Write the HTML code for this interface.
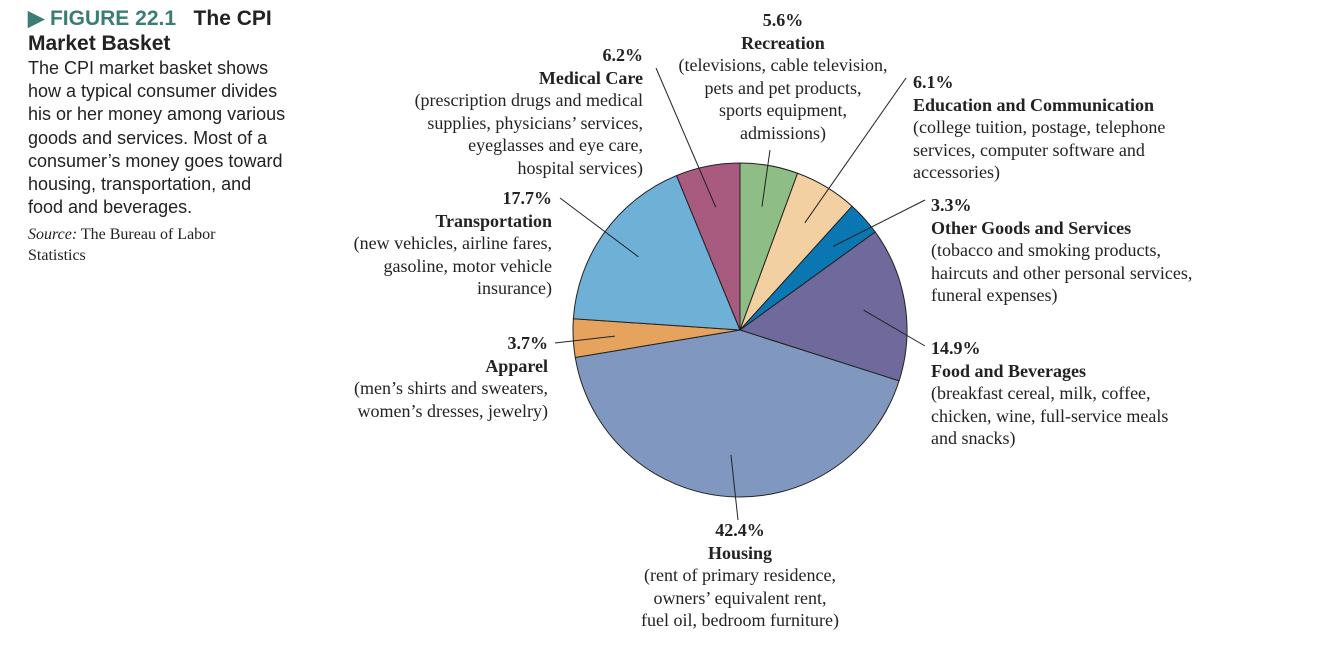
<!DOCTYPE html>
<html><head><meta charset="utf-8"><style>
body{margin:0;width:1340px;height:646px;background:#fff;position:relative;overflow:hidden;font-family:"Liberation Serif",serif;color:#222}
.t{position:absolute;font-size:18px;line-height:22.5px;white-space:nowrap}
.r{text-align:right}.c{text-align:center}
b{font-weight:bold}
#side{position:absolute;left:28px;top:6px;font-family:"Liberation Sans",sans-serif;white-space:nowrap}
</style></head><body>
<div id="side">
<div style="font-size:21px;font-weight:bold;line-height:25px"><span style="color:#3a7d74">&#9654; FIGURE 22.1</span>&nbsp;&nbsp;&nbsp;The CPI<br>Market Basket</div>
<div style="font-size:18px;line-height:23.2px;margin-top:1px">The CPI market basket shows<br>how a typical consumer divides<br>his or her money among various<br>goods and services. Most of a<br>consumer’s money goes toward<br>housing, transportation, and<br>food and beverages.</div>
<div style="font-family:'Liberation Serif',serif;font-size:16px;line-height:21px;margin-top:5px"><i>Source:</i> The Bureau of Labor<br>Statistics</div>
</div>
<svg id="pie" width="1340" height="646" style="position:absolute;left:0;top:0"></svg>
<div class="t c" style="left:653px;top:9px;width:260px"><b>5.6%</b><br><b>Recreation</b><br>(televisions, cable television,<br>pets and pet products,<br>sports equipment,<br>admissions)</div>
<div class="t r" style="right:697px;top:44px"><b>6.2%</b><br><b>Medical Care</b><br>(prescription drugs and medical<br>supplies, physicians’ services,<br>eyeglasses and eye care,<br>hospital services)</div>
<div class="t" style="left:913px;top:71px"><b>6.1%</b><br><b>Education and Communication</b><br>(college tuition, postage, telephone<br>services, computer software and<br>accessories)</div>
<div class="t" style="left:931px;top:194px"><b>3.3%</b><br><b>Other Goods and Services</b><br>(tobacco and smoking products,<br>haircuts and other personal services,<br>funeral expenses)</div>
<div class="t" style="left:931px;top:337px"><b>14.9%</b><br><b>Food and Beverages</b><br>(breakfast cereal, milk, coffee,<br>chicken, wine, full-service meals<br>and snacks)</div>
<div class="t r" style="right:788px;top:187px"><b>17.7%</b><br><b>Transportation</b><br>(new vehicles, airline fares,<br>gasoline, motor vehicle<br>insurance)</div>
<div class="t r" style="right:792px;top:332px"><b>3.7%</b><br><b>Apparel</b><br>(men’s shirts and sweaters,<br>women’s dresses, jewelry)</div>
<div class="t c" style="left:600px;top:519px;width:280px"><b>42.4%</b><br><b>Housing</b><br>(rent of primary residence,<br>owners’ equivalent rent,<br>fuel oil, bedroom furniture)</div>
<script>
const categories=["Recreation","Education and Communication","Other Goods and Services","Food and Beverages","Housing","Apparel","Transportation","Medical Care"];
const values=[5.6,6.1,3.3,14.9,42.4,3.7,17.7,6.2];
const colors=["#8ebd86","#f3d0a1","#0a77b3","#6f699c","#8098c0","#e5a35d","#6eb0d6","#a85a7f"];
const labelAnchors=[[770,150],[906,78],[925,200],[925,346],[738,520],[555,343],[560,198],[656,68]];
const svg=document.getElementById('pie');
const NS='http://www.w3.org/2000/svg';
const cx=740,cy=330,R=167;
const total=values.reduce((a,b)=>a+b,0);
function pt(a,r){return [cx+r*Math.sin(a),cy-r*Math.cos(a)];}
let a0=0;
values.forEach((v,i)=>{
  const a1=a0+v/total*2*Math.PI;
  const p0=pt(a0,R),p1=pt(a1,R);
  const large=(a1-a0)>Math.PI?1:0;
  const path=document.createElementNS(NS,'path');
  path.setAttribute('d',`M${cx},${cy}L${p0[0]},${p0[1]}A${R},${R} 0 ${large} 1 ${p1[0]},${p1[1]}Z`);
  path.setAttribute('fill',colors[i]);
  path.setAttribute('stroke','#222');
  path.setAttribute('stroke-width','1');
  
  
  svg.appendChild(path);
  const mid=(a0+a1)/2;
  const ip=pt(mid,R*0.75);
  const ln=document.createElementNS(NS,'line');
  ln.setAttribute('x1',labelAnchors[i][0]);ln.setAttribute('y1',labelAnchors[i][1]);
  ln.setAttribute('x2',ip[0]);ln.setAttribute('y2',ip[1]);
  ln.setAttribute('stroke','#222');ln.setAttribute('stroke-width','1');
  
  
  svg.appendChild(ln);
  a0=a1;
});
</script>
</body></html>
